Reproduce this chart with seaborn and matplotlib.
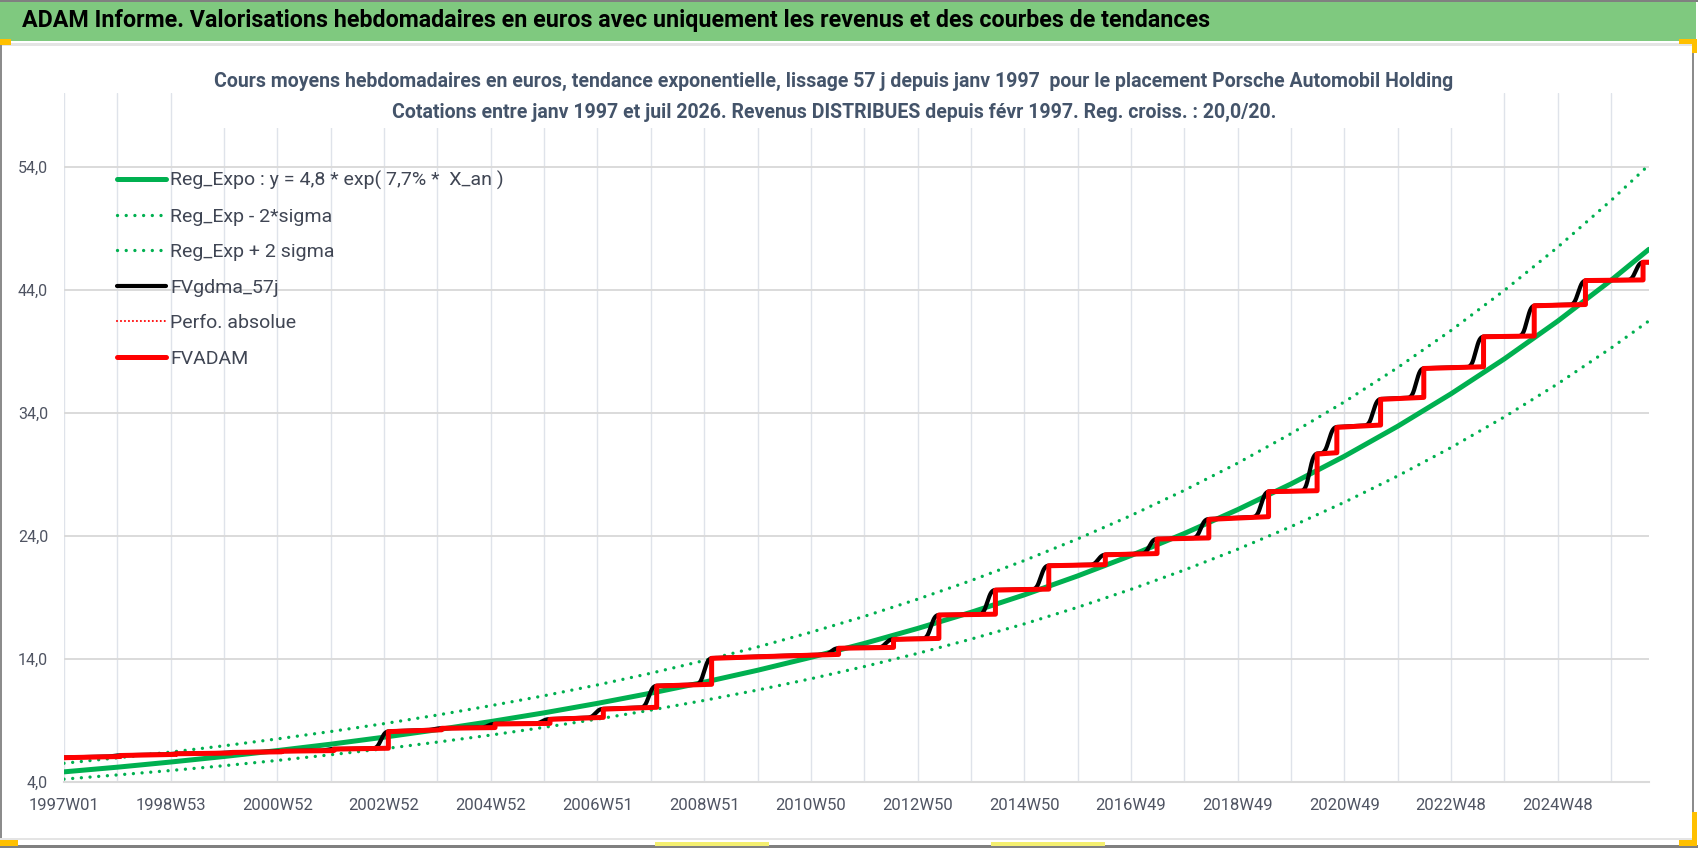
import numpy as np
import pandas as pd
import seaborn as sns
import matplotlib
matplotlib.use("Agg")
from matplotlib import pyplot as plt
from matplotlib import font_manager
from matplotlib.patches import Rectangle

W, H = 1698, 848

# trend curves, read once a year (years counted from 1997W01)
TREND_YEARS = list(range(0, 30)) + [29.71]
REG_EXPO = [4.80, 5.18, 5.60, 6.05, 6.53, 7.05, 7.62, 8.23, 8.89, 9.60,
            10.37, 11.20, 12.09, 13.06, 14.11, 15.24, 16.46, 17.77, 19.19, 20.73,
            22.39, 24.18, 26.12, 28.21, 30.46, 32.90, 35.54, 38.38, 41.45, 44.77, 47.29]
REG_MINUS = [4.21, 4.55, 4.91, 5.30, 5.73, 6.19, 6.68, 7.22, 7.79, 8.42,
             9.09, 9.82, 10.61, 11.45, 12.37, 13.36, 14.43, 15.59, 16.83, 18.18,
             19.64, 21.21, 22.90, 24.74, 26.72, 28.86, 31.17, 33.66, 36.35, 39.26, 41.47]
REG_PLUS = [5.50, 5.94, 6.41, 6.92, 7.48, 8.08, 8.72, 9.42, 10.18, 10.99,
            11.87, 12.82, 13.85, 14.95, 16.15, 17.44, 18.84, 20.35, 21.98, 23.74,
            25.64, 27.69, 29.90, 32.30, 34.88, 37.67, 40.69, 43.95, 47.46, 51.26, 54.15]

# FVADAM step line : corners (years since 1997W01, value)
FV_YEARS = [0, 1.06, 1.06, 2.10, 2.10, 3.15, 3.15, 4.08, 4.08, 5.06, 5.06,
            6.08, 6.08, 7.08, 7.08, 8.08, 8.08, 9.11, 9.11, 10.11, 10.11,
            11.11, 11.11, 12.14, 12.14, 13.17, 14.52, 14.52, 15.55, 15.55,
            16.40, 16.40, 17.46, 17.46, 18.46, 18.46, 19.52, 19.52, 20.49, 20.49,
            21.46, 21.46, 22.58, 22.58, 23.49, 23.49, 23.86, 23.86, 24.68, 24.68,
            25.49, 25.49, 26.61, 26.61, 27.56, 27.56, 28.52, 28.52, 29.60, 29.60, 29.71]
FV_VALUES = [5.95, 6.05, 6.13, 6.22, 6.27, 6.33, 6.38, 6.43, 6.48, 6.53, 6.65,
             6.72, 8.07, 8.22, 8.34, 8.40, 8.69, 8.74, 9.07, 9.23, 9.90,
             10.05, 11.78, 11.92, 14.03, 14.18, 14.35, 14.85, 14.92, 15.57,
             15.65, 17.55, 17.62, 19.58, 19.66, 21.56, 21.65, 22.45, 22.55, 23.73,
             23.82, 25.33, 25.55, 27.58, 27.66, 30.64, 30.75, 32.81, 33.00, 35.09,
             35.25, 37.60, 37.74, 40.18, 40.24, 42.70, 42.80, 44.75, 44.80, 46.24, 46.24]

TICK_LABELS = ["1997W01", "1998W53", "2000W52", "2002W52", "2004W52", "2006W51",
               "2008W51", "2010W50", "2012W50", "2014W50", "2016W49", "2018W49",
               "2020W49", "2022W48", "2024W48"]
Y_TICKS = [4, 14, 24, 34, 44, 54]
N_WEEKS = 1545
WEEKS_PER_YEAR = 52

TITLE = "ADAM Informe. Valorisations hebdomadaires en euros avec uniquement les revenus et des courbes de tendances"
SUB1 = "Cours moyens hebdomadaires en euros, tendance exponentielle, lissage 57 j depuis janv 1997  pour le placement Porsche Automobil Holding"
SUB2 = "Cotations entre janv 1997 et juil 2026. Revenus DISTRIBUES depuis févr 1997. Reg. croiss. : 20,0/20."
LABELS = ["Reg_Expo : y = 4,8 * exp( 7,7% *  X_an )", "Reg_Exp - 2*sigma", "Reg_Exp + 2 sigma",
          "FVgdma_57j", "Perfo. absolue", "FVADAM"]

GREEN = "#00b050"
RED = "#ff0000"
GRID_V = "#dfe3ea"
GRID_H = "#dadada"
TXT = "#4f5462"


def pick_font(names):
    for n in names:
        try:
            font_manager.findfont(font_manager.FontProperties(family=n), fallback_to_default=False)
            return n
        except ValueError:
            pass
    return "DejaVu Sans"


def px_rect(x0, y0, x1, y1, color, z=1):
    fig.add_artist(Rectangle((x0 / W, 1 - y1 / H), (x1 - x0) / W, (y1 - y0) / H,
                             transform=fig.transFigure, facecolor=color, edgecolor="none", zorder=z))


def fit_width(txt, target):
    r = fig.canvas.get_renderer()
    w = txt.get_window_extent(r).width
    txt.set_fontsize(txt.get_fontsize() * target / w)


sns.set_style("white")
font = pick_font(["Liberation Sans Narrow", "Roboto", "Lato"])
narrow = font == "Liberation Sans Narrow"
plt.rcParams["font.family"] = [font, "DejaVu Sans"]

fig = plt.figure(figsize=(W / 100, H / 100), dpi=100)

# frame around the sheet
px_rect(0, 0, W, 2, "#808080")
px_rect(0, 2, 1696, 41, "#7fc97f")
px_rect(0, 43, 1692, 46, "#e4e4e4")
px_rect(0, 45, 2, 848, "#8c8c8c")
px_rect(1692, 45, 1694, 848, "#8c8c8c")
px_rect(0, 838, 1692, 840, "#e4e4e4")
px_rect(0, 845, W, 848, "#808080")
px_rect(0, 39, 11, 45, "#ffc000", 2)
px_rect(1679, 39, 1697, 44, "#ffc000", 2)
px_rect(1692, 39, 1697, 53, "#ffc000", 2)
px_rect(0, 840, 18, 846, "#ffc000", 2)
px_rect(1692, 812, 1697, 846, "#ffc000", 2)
px_rect(1679, 840, 1697, 846, "#ffc000", 2)
px_rect(655, 842, 769, 846, "#f4ef70", 2)
px_rect(991, 842, 1105, 846, "#f4ef70", 2)
# white title box that hides the grid behind the chart title
px_rect(210, 60, 1484, 128, "white", 4)

ax = fig.add_axes([64 / W, 1 - 781.7 / H, (1649 - 64) / W, (781.7 - 93) / H])

tw = np.array(TREND_YEARS) * WEEKS_PER_YEAR
fw = np.array(FV_YEARS) * WEEKS_PER_YEAR

# smoothed line : moving average of the weekly FVADAM values
weeks = np.arange(0, N_WEEKS + 1)
fv_weekly = pd.Series(np.interp(weeks, fw, FV_VALUES))
rev = fv_weekly[::-1].reset_index(drop=True)
smooth = rev
for _ in range(3):
    smooth = smooth.rolling(6, min_periods=1).mean()
smooth = smooth[::-1].to_numpy()

dots = (0, (0.01, 3.3))
sns.lineplot(x=tw, y=REG_EXPO, ax=ax, color=GREEN, lw=3.6, estimator=None, sort=False, label=LABELS[0])
sns.lineplot(x=tw, y=REG_MINUS, ax=ax, color=GREEN, lw=2.4, linestyle=dots, dash_capstyle="round",
             estimator=None, sort=False, label=LABELS[1])
sns.lineplot(x=tw, y=REG_PLUS, ax=ax, color=GREEN, lw=2.4, linestyle=dots, dash_capstyle="round",
             estimator=None, sort=False, label=LABELS[2])
sns.lineplot(x=weeks, y=smooth, ax=ax, color="black", lw=3.0, estimator=None, sort=False, label=LABELS[3])
sns.lineplot(x=fw, y=FV_VALUES, ax=ax, color=RED, lw=1.5, linestyle=(0, (0.01, 1.9)), dash_capstyle="round",
             estimator=None, sort=False, label=LABELS[4])
sns.lineplot(x=fw, y=FV_VALUES, ax=ax, color=RED, lw=3.6, estimator=None, sort=False, label=LABELS[5])

ax.set_xlim(0, N_WEEKS)
ax.set_ylim(4, 60)
xt = list(range(0, N_WEEKS, WEEKS_PER_YEAR))
ax.set_xticks(xt)
ax.set_xticklabels([TICK_LABELS[i // 2] if i % 2 == 0 else "" for i in range(len(xt))])
ax.set_yticks(Y_TICKS)
ax.set_yticklabels([f"{v:.1f}".replace(".", ",") for v in Y_TICKS])
ax.set_xlabel("")
ax.set_ylabel("")
for s in ["top", "right", "left"]:
    ax.spines[s].set_visible(False)
ax.spines["bottom"].set_color(GRID_H)
ax.spines["bottom"].set_linewidth(1.5)
ax.grid(axis="x", color=GRID_V, lw=1.0)
ax.grid(axis="y", color=GRID_H, lw=1.4)
ax.set_axisbelow(True)
tick_size = 13 if narrow else 12
ax.tick_params(axis="x", direction="out", length=4, width=1.0, color=GRID_V, pad=8,
               labelsize=tick_size, labelcolor=TXT)
ax.tick_params(axis="y", length=0, pad=11.5, labelsize=tick_size - 0.5, labelcolor=TXT)

handles, _ = ax.get_legend_handles_labels()
for h in handles[1:3]:
    h.set_linestyle((0, (0.01, 2.6)))
ax.legend(handles, LABELS, loc="upper left", bbox_to_anchor=(117 / W, 1 - 171 / H),
          bbox_transform=fig.transFigure, frameon=False, borderpad=0, borderaxespad=0,
          handlelength=2.5, handletextpad=0.25, labelspacing=0.9,
          fontsize=15 if narrow else 14, labelcolor="#404654")

t1 = fig.text(22 / W, 1 - 21 / H, TITLE, ha="left", va="center", fontsize=18,
              fontweight="bold", color="black", zorder=5)
t2 = fig.text(834 / W, 1 - 81 / H, SUB1, ha="center", va="center", fontsize=15,
              fontweight="bold", color="#44546a", zorder=5)
t3 = fig.text(834 / W, 1 - 112 / H, SUB2, ha="center", va="center", fontsize=15,
              fontweight="bold", color="#44546a", zorder=5)
fit_width(t1, 1185)
fit_width(t2, 1250)
t3.set_fontsize(t2.get_fontsize())

fig.savefig("out.png", dpi=100)
